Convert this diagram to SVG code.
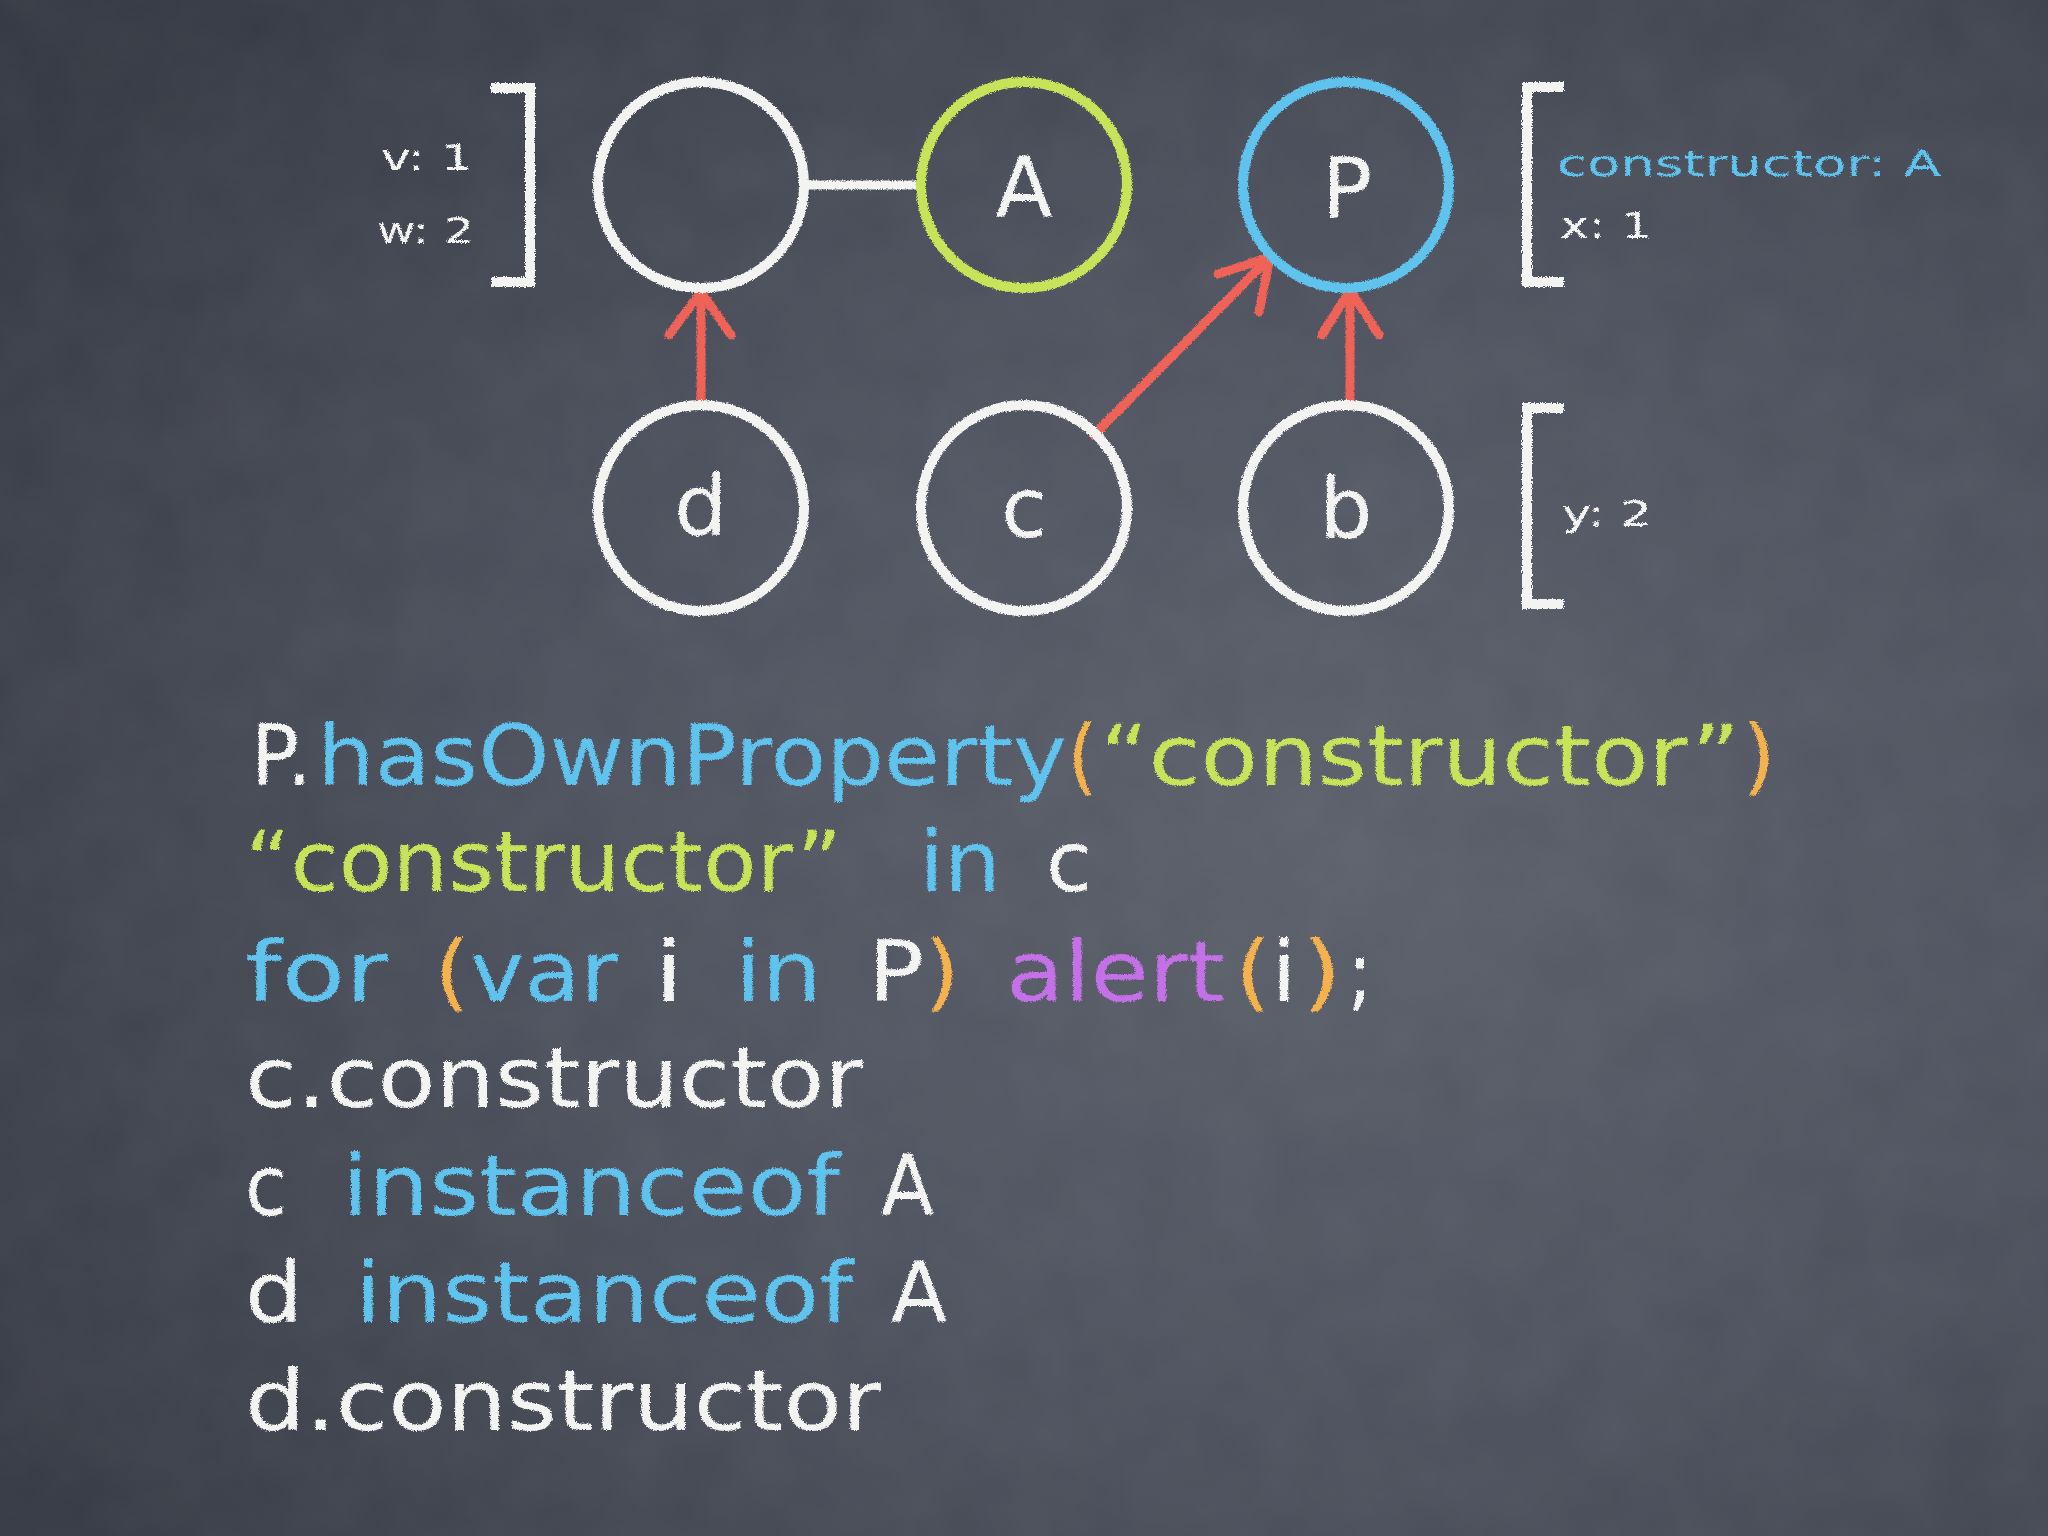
<svg xmlns="http://www.w3.org/2000/svg" width="2048" height="1536" viewBox="0 0 2048 1536">
<defs>
  <radialGradient id="bg" cx="0.66" cy="0.55" r="0.8">
    <stop offset="0" stop-color="#5b606b"/>
    <stop offset="0.5" stop-color="#4c515d"/>
    <stop offset="1" stop-color="#353943"/>
  </radialGradient>
  <filter id="chalk" x="-10%" y="-10%" width="120%" height="120%">
    <feTurbulence type="fractalNoise" baseFrequency="0.8" numOctaves="2" seed="4" result="n"/>
    <feDisplacementMap in="SourceGraphic" in2="n" scale="4" xChannelSelector="R" yChannelSelector="G"/>
  </filter>
  <filter id="grain" x="0" y="0" width="100%" height="100%">
    <feTurbulence type="fractalNoise" baseFrequency="0.015" numOctaves="3" seed="7" result="t"/>
    <feColorMatrix in="t" type="matrix" values="0 0 0 0 1  0 0 0 0 1  0 0 0 0 1  0 0 0 0.08 0"/>
  </filter>
</defs>
<style>
  .node { fill: none; stroke-width: 10; }
  .w { stroke: #f3f3f1; }
  .g { stroke: #c6e35a; }
  .bl { stroke: #5ec3ee; }
  .arrow { stroke: #ef6259; stroke-width: 9; fill: none; stroke-linecap: round; stroke-linejoin: round; }
  .link { stroke: #f3f3f1; stroke-width: 9; fill: none; }
  .brk { stroke: #f3f3f1; stroke-width: 10; fill: none; }
  text { font-family: "DejaVu Sans", "Open Sans", sans-serif; }
  .lbl { font-size: 84px; fill: #f3f3f1; text-anchor: middle; }
  .sm { font-size: 35px; }
  .code { font-size: 84px; }
  .tw { fill: #f3f3f1; }
  .tb { fill: #5ec3ee; }
  .tg { fill: #c6e35a; }
  .to { fill: #f4b24f; }
  .tp { fill: #c46fe6; }
</style>
<rect width="2048" height="1536" fill="url(#bg)"/>
<rect width="2048" height="1536" filter="url(#grain)" opacity="0.6"/>

<g id="connectors" filter="url(#chalk)">
  <line class="link" x1="805" y1="185" x2="920" y2="185"/>
  <path class="arrow" d="M701,403 L701,292 M669,335 L701,292 L731,335"/>
  <path class="arrow" d="M1094,435 L1270,257 M1218,274 L1270,257 L1259,312"/>
  <path class="arrow" d="M1350,405 L1350,290 M1322,335 L1350,290 L1379,335"/>
</g>

<g id="node-proto-A" filter="url(#chalk)">
  <circle class="node w" cx="701" cy="185" r="103"/>
</g>
<g id="node-A" filter="url(#chalk)">
  <circle class="node g" cx="1024" cy="185" r="103"/>
  <text class="lbl" x="1024" y="217">A</text>
</g>
<g id="node-P" filter="url(#chalk)">
  <circle class="node bl" cx="1346" cy="185" r="103"/>
  <text class="lbl" x="1347" y="218">P</text>
</g>
<g id="node-d" filter="url(#chalk)">
  <circle class="node w" cx="701" cy="508" r="103"/>
  <text class="lbl" x="701" y="535">d</text>
</g>
<g id="node-c" filter="url(#chalk)">
  <circle class="node w" cx="1024" cy="508" r="103"/>
  <text class="lbl" x="1024" y="537">c</text>
</g>
<g id="node-b" filter="url(#chalk)">
  <circle class="node w" cx="1346" cy="508" r="103"/>
  <text class="lbl" x="1346" y="538">b</text>
</g>

<g id="props-left" filter="url(#chalk)">
  <path class="brk" d="M491,88 H530 V282 H491"/>
  <text class="sm tw" x="381" y="170" textLength="92" lengthAdjust="spacingAndGlyphs">v: 1</text>
  <text class="sm tw" x="377" y="243" textLength="97" lengthAdjust="spacingAndGlyphs">w: 2</text>
</g>
<g id="props-P" filter="url(#chalk)">
  <path class="brk" d="M1564,87 H1527 V282 H1564"/>
  <text class="sm tb" x="1557" y="176" textLength="384" lengthAdjust="spacingAndGlyphs">constructor: A</text>
  <text class="sm tw" x="1560" y="238" textLength="92" lengthAdjust="spacingAndGlyphs">x: 1</text>
</g>
<g id="props-b" filter="url(#chalk)">
  <path class="brk" d="M1564,408 H1527 V604 H1564"/>
  <text class="sm tw" x="1562" y="526" textLength="90" lengthAdjust="spacingAndGlyphs">y: 2</text>
</g>

<g id="code" class="code" filter="url(#chalk)">
  <text class="tw" x="251" y="785" textLength="61" lengthAdjust="spacingAndGlyphs">P.</text>
  <text class="tb" x="317" y="785" textLength="750" lengthAdjust="spacingAndGlyphs">hasOwnProperty</text>
  <text class="to" x="1067" y="785" textLength="31" lengthAdjust="spacingAndGlyphs">(</text>
  <text class="tg" x="1100" y="785" textLength="640" lengthAdjust="spacingAndGlyphs">“constructor”</text>
  <text class="to" x="1742" y="785" textLength="34" lengthAdjust="spacingAndGlyphs">)</text>

  <text class="tg" x="245" y="891" textLength="597" lengthAdjust="spacingAndGlyphs">“constructor”</text>
  <text class="tb" x="919" y="891" textLength="82" lengthAdjust="spacingAndGlyphs">in</text>
  <text class="tw" x="1046" y="891" textLength="46" lengthAdjust="spacingAndGlyphs">c</text>

  <text class="tb" x="245" y="1001" textLength="143" lengthAdjust="spacingAndGlyphs">for</text>
  <text class="to" x="434" y="1001" textLength="36" lengthAdjust="spacingAndGlyphs">(</text>
  <text class="tb" x="470" y="1001" textLength="148" lengthAdjust="spacingAndGlyphs">var</text>
  <text class="tw" x="654" y="1001" textLength="30" lengthAdjust="spacingAndGlyphs">i</text>
  <text class="tb" x="735" y="1001" textLength="87" lengthAdjust="spacingAndGlyphs">in</text>
  <text class="tw" x="868" y="1001" textLength="56" lengthAdjust="spacingAndGlyphs">P</text>
  <text class="to" x="924" y="1001" textLength="36" lengthAdjust="spacingAndGlyphs">)</text>
  <text class="tp" x="1006" y="1001" textLength="219" lengthAdjust="spacingAndGlyphs">alert</text>
  <text class="to" x="1235" y="1001" textLength="36" lengthAdjust="spacingAndGlyphs">(</text>
  <text class="tw" x="1271" y="1001" textLength="26" lengthAdjust="spacingAndGlyphs">i</text>
  <text class="to" x="1302" y="1001" textLength="40" lengthAdjust="spacingAndGlyphs">)</text>
  <text class="tw" x="1347" y="1001" textLength="26" lengthAdjust="spacingAndGlyphs">;</text>

  <text class="tw" x="245" y="1107" textLength="618" lengthAdjust="spacingAndGlyphs">c.constructor</text>

  <text class="tw" x="245" y="1215" textLength="42" lengthAdjust="spacingAndGlyphs">c</text>
  <text class="tb" x="342" y="1215" textLength="498" lengthAdjust="spacingAndGlyphs">instanceof</text>
  <text class="tw" x="881" y="1215" textLength="53" lengthAdjust="spacingAndGlyphs">A</text>

  <text class="tw" x="245" y="1322" textLength="58" lengthAdjust="spacingAndGlyphs">d</text>
  <text class="tb" x="355" y="1322" textLength="498" lengthAdjust="spacingAndGlyphs">instanceof</text>
  <text class="tw" x="891" y="1322" textLength="56" lengthAdjust="spacingAndGlyphs">A</text>

  <text class="tw" x="245" y="1430" textLength="636" lengthAdjust="spacingAndGlyphs">d.constructor</text>
</g>
</svg>
